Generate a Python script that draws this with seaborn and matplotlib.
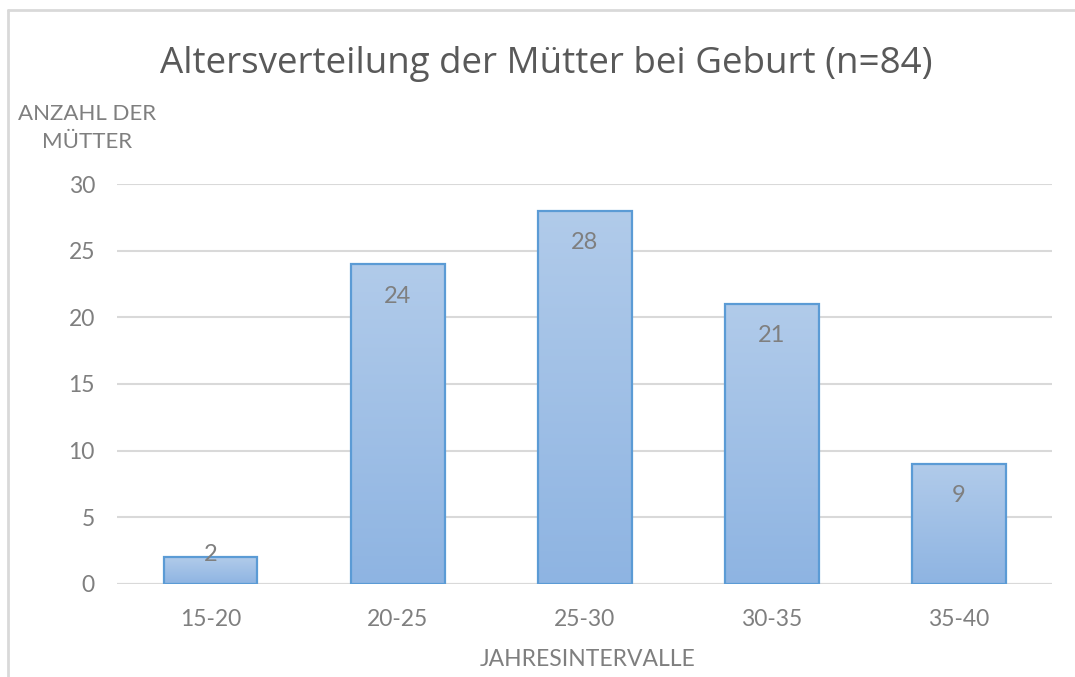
import matplotlib
matplotlib.use("Agg")
import matplotlib.pyplot as plt
import matplotlib.lines as mlines
import numpy as np
import pandas as pd
import seaborn as sns

# Daten
intervalle = ["15-20", "20-25", "25-30", "30-35", "35-40"]
anzahl = [2, 24, 28, 21, 9]
y_ticks = [0, 5, 10, 15, 20, 25, 30]

df = pd.DataFrame({"intervall": intervalle, "anzahl": anzahl})

sns.set_style("white")
plt.rcParams["font.family"] = ["Lato", "DejaVu Sans"]

grau = "#7f7f7f"
fig = plt.figure(figsize=(10.75, 6.77), dpi=100)
ax = fig.add_axes([0.109, 0.1374, 0.870, 0.5908])

sns.barplot(data=df, x="intervall", y="anzahl", color="#9dbde5", width=0.5,
            edgecolor="#5b9bd5", linewidth=1.6, saturation=1, ax=ax, zorder=3)

# Farbverlauf in den Balken (oben hell, unten dunkler)
verlauf = np.linspace(0, 1, 256).reshape(-1, 1)
cmap = matplotlib.colors.LinearSegmentedColormap.from_list("g", ["#b1cbea", "#8eb4e2"])
for p in ax.patches:
    x0, y0 = p.get_x(), p.get_y()
    w, h = p.get_width(), p.get_height()
    im = ax.imshow(verlauf, cmap=cmap, aspect="auto", origin="upper",
                   extent=[x0, x0 + w, y0, y0 + h], zorder=3.5)
    im.set_clip_path(p)
    p.set_facecolor("none")
    p.set_zorder(4)

# Beschriftungen in den Balken
for i, v in enumerate(anzahl):
    y = v - 2.4 if v > 5 else v + 0.2
    ax.text(i, y, str(v), ha="center", va="center", fontsize=17, color=grau, zorder=5)

ax.set_xlim(-0.5, 4.5)
ax.set_ylim(0, 30)
ax.set_yticks(y_ticks)
ax.yaxis.grid(True, color="#d9d9d9", linewidth=1.5, zorder=0)
ax.set_axisbelow(True)
for s in ax.spines.values():
    s.set_visible(False)
ax.axhline(0, color="#d9d9d9", linewidth=1.5, zorder=2)
ax.tick_params(axis="y", length=0, pad=16, labelsize=16.5, labelcolor=grau)
ax.tick_params(axis="x", length=0, pad=18, labelsize=16.5, labelcolor=grau)
ax.set_xlabel("")
ax.set_ylabel("")

fig.text(0.508, 0.906, "Altersverteilung der Mütter bei Geburt (n=84)",
         ha="center", va="center", fontsize=26.5, color="#595959", family=["Open Sans", "DejaVu Sans"])
fig.text(0.081, 0.811, "ANZAHL DER\nMÜTTER", ha="center", va="center",
         fontsize=16, color=grau, linespacing=1.5)
fig.text(0.547, 0.026, "JAHRESINTERVALLE", ha="center", va="center",
         fontsize=16.5, color=grau)

# Rahmen des Diagramms
fig.add_artist(mlines.Line2D([0.007, 1.0], [0.985, 0.985], color="#d9d9d9", linewidth=2,
                             transform=fig.transFigure))
fig.add_artist(mlines.Line2D([0.007, 0.007], [0.0, 0.985], color="#d9d9d9", linewidth=2,
                             transform=fig.transFigure))

fig.savefig("out.png", dpi=100)
